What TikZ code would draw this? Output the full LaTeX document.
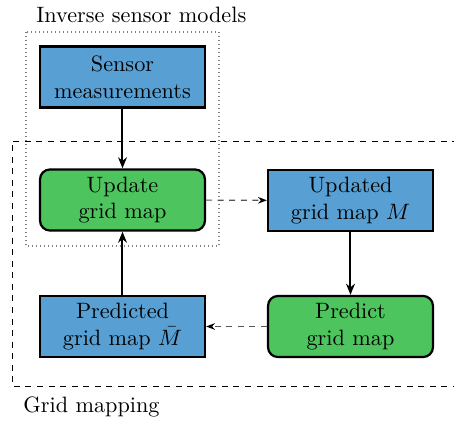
\documentclass[tikz,border=0pt]{standalone}
\usetikzlibrary{arrows.meta}
\definecolor{boxblue}{RGB}{88,160,211}
\definecolor{boxgreen}{RGB}{78,196,94}
\definecolor{dashgray}{RGB}{85,85,85}
\begin{document}
\begin{tikzpicture}[x=0.45pt,y=-0.45pt,
  databox/.style={draw=black,line width=1pt,fill=boxblue,minimum width=74.25pt,minimum height=27.5pt,align=center,inner sep=0pt},
  procbox/.style={databox,fill=boxgreen,rounded corners=4.5pt},
  solidarrow/.style={line width=0.9pt,-{Stealth[length=5pt,width=4pt]}},
  dasharrow/.style={dashgray,line width=0.5pt,dash pattern=on 2.7pt off 2.5pt,-{Stealth[length=4pt,width=3pt,black]}},
  grouplabel/.style={inner sep=0pt,anchor=base west}]
\useasboundingbox (0,0) rectangle (454,421);
\draw[gray,line width=0.5pt,dash pattern=on 0.4pt off 1.4pt] (26,32) rectangle (219,246);
\draw[black,line width=0.4pt,dash pattern=on 2.7pt off 2.5pt] (470,141) -- (12,141) -- (12,386) -- (470,386);
\node[databox] (sensor) at (122.5,77) {Sensor\\measurements};
\node[procbox] (update) at (122.5,200) {Update\\grid map};
\node[databox] (updated) at (350.5,200.5) {Updated\\grid map $M$};
\node[procbox] (predict) at (350.5,326.5) {Predict\\grid map};
\node[databox] (predicted) at (122.5,326.5) {Predicted\\grid map $\bar{M}$};
\node[grouplabel] (lblinv) at (36,23) {Inverse sensor models};
\node[grouplabel] (lblgrid) at (23,413) {Grid mapping};
\draw[solidarrow] (sensor) -- (update);
\draw[solidarrow] (predicted) -- (update);
\draw[solidarrow] (updated) -- (predict);
\draw[dasharrow] (update) -- (updated);
\draw[dasharrow] (predict) -- (predicted);
\end{tikzpicture}
\end{document}
